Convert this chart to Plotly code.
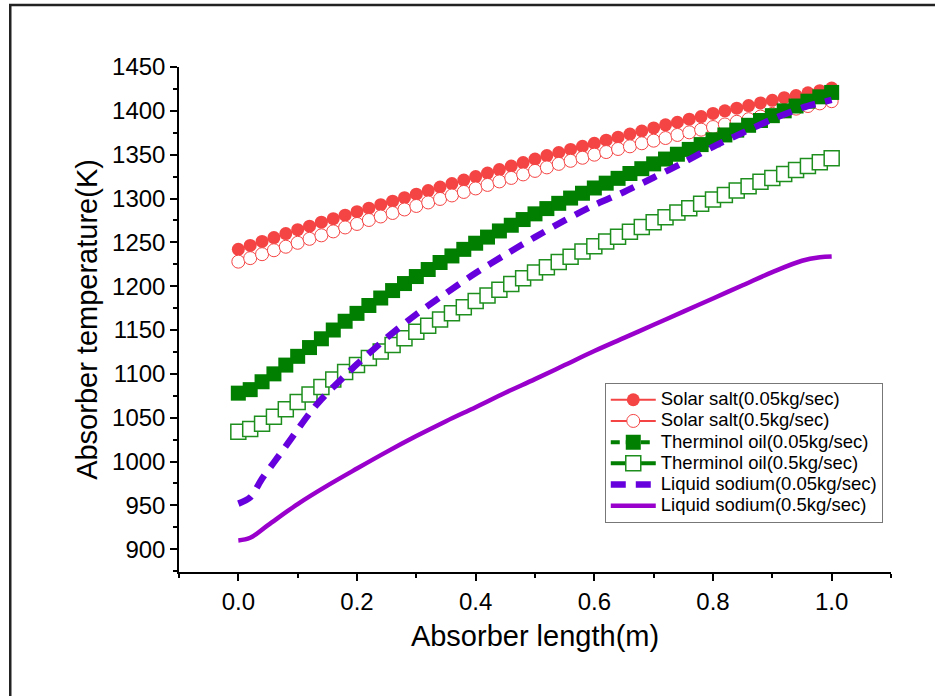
import plotly.graph_objects as go

# ---------------- data ----------------
x_grid = [0.00, 0.02, 0.04, 0.06, 0.08, 0.10, 0.12, 0.14, 0.16, 0.18,
          0.20, 0.22, 0.24, 0.26, 0.28, 0.30, 0.32, 0.34, 0.36, 0.38,
          0.40, 0.42, 0.44, 0.46, 0.48, 0.50, 0.52, 0.54, 0.56, 0.58,
          0.60, 0.62, 0.64, 0.66, 0.68, 0.70, 0.72, 0.74, 0.76, 0.78,
          0.80, 0.82, 0.84, 0.86, 0.88, 0.90, 0.92, 0.94, 0.96, 0.98, 1.00]

solar_005 = [1242, 1246.5, 1251, 1255.5, 1260, 1264.5, 1268.5, 1273, 1277, 1281,
             1285, 1289, 1293, 1297, 1301, 1305, 1309, 1313, 1317, 1321,
             1325, 1329, 1333, 1337, 1341, 1345, 1349, 1352.5, 1356, 1359.5,
             1363, 1366.5, 1370, 1373.5, 1377, 1380.5, 1384, 1387, 1390.5, 1393.5,
             1397, 1400, 1403, 1406, 1409, 1412, 1415, 1417.5, 1420.5, 1423, 1426]

solar_05 = [1228, 1232, 1236.5, 1241, 1245, 1249.5, 1254, 1258, 1262.5, 1267,
            1271, 1275.5, 1279.5, 1283.5, 1287.5, 1291.5, 1295.5, 1299.5, 1303.5, 1307.5,
            1311.5, 1315.5, 1319.5, 1323.5, 1327.5, 1331.5, 1335.5, 1339.5, 1343, 1346.5,
            1350, 1353, 1356.5, 1359.5, 1363, 1366, 1369, 1372.5, 1375.5, 1378.5,
            1381.5, 1384.5, 1387.5, 1390.5, 1393.5, 1396.5, 1399.5, 1402.5, 1405.5, 1408.5, 1411]

therm_005 = [1078, 1082, 1091, 1100, 1110, 1120, 1130, 1140, 1150, 1160,
             1169, 1178, 1186.5, 1195, 1203, 1211, 1219, 1227, 1234.5, 1242,
             1249, 1256, 1263, 1269.5, 1276, 1282.5, 1288.5, 1294.5, 1300.5, 1306,
             1312, 1317.5, 1323, 1328.5, 1334, 1339.5, 1345, 1350.5, 1356, 1361.5,
             1367, 1372.5, 1378, 1383.5, 1389, 1394.5, 1400, 1405.5, 1411, 1416, 1421]

therm_05 = [1034, 1037, 1043, 1051, 1059.5, 1068, 1076.5, 1085, 1093.5, 1102,
            1110, 1118, 1125.5, 1133, 1140.5, 1148, 1155, 1162, 1169, 1176,
            1183, 1189.5, 1196, 1202.5, 1209, 1215.5, 1221.5, 1227.5, 1233.5, 1239.5,
            1245.5, 1251, 1256.5, 1262, 1267.5, 1273, 1278.5, 1284, 1289, 1294,
            1299, 1304, 1309, 1314, 1319, 1323.5, 1328, 1332.5, 1337, 1341.5, 1346]

x_na_005 = [0.00, 0.02, 0.04, 0.06, 0.08, 0.10, 0.12, 0.14, 0.16, 0.18, 0.20,
            0.25, 0.30, 0.35, 0.40, 0.45, 0.50, 0.55, 0.60, 0.65, 0.70,
            0.75, 0.80, 0.85, 0.90, 0.95, 1.00]
na_005 = [952, 959, 980.5, 999, 1017.5, 1036.5, 1055, 1071, 1085, 1098, 1111,
          1141, 1168, 1192, 1215, 1236, 1256, 1275, 1292.5, 1307.5, 1324,
          1341, 1359, 1375, 1390.5, 1403.5, 1412.5]

x_na_05 = [0.00, 0.02, 0.05, 0.10, 0.15, 0.20, 0.25, 0.30, 0.35, 0.40, 0.45,
           0.50, 0.55, 0.60, 0.65, 0.70, 0.75, 0.80, 0.85, 0.90, 0.95, 0.98, 1.00]
na_05 = [910, 913, 927.5, 951.5, 972.5, 992, 1011, 1029, 1046, 1062, 1078.5,
         1094, 1110, 1126, 1141, 1156, 1171, 1186, 1201, 1216, 1229, 1233, 1234]

x_ticks = [0.0, 0.2, 0.4, 0.6, 0.8, 1.0]
x_tick_text = ["0.0", "0.2", "0.4", "0.6", "0.8", "1.0"]
y_ticks = [900, 950, 1000, 1050, 1100, 1150, 1200, 1250, 1300, 1350, 1400, 1450]

names = ["Solar salt(0.05kg/sec)", "Solar salt(0.5kg/sec)",
         "Therminol oil(0.05kg/sec)", "Therminol oil(0.5kg/sec)",
         "Liquid sodium(0.05kg/sec)", "Liquid sodium(0.5kg/sec)"]

RED = "#F54444"
GREEN = "#007F00"
OPEN_GREEN = "#1E8F1E"
NA1 = "#6600DD"
NA2 = "#9900CC"
FONT = "Liberation Sans, Arial, sans-serif"


def leg(name):
    return '<span style="font-size:18.5px">' + name + '</span>'


fig = go.Figure()
fig.add_trace(go.Scatter(x=x_grid, y=solar_005, name=leg(names[0]), mode="lines+markers",
                         line=dict(color=RED, width=2),
                         marker=dict(symbol="circle", size=13, color=RED,
                                     line=dict(color=RED, width=0))))
fig.add_trace(go.Scatter(x=x_grid, y=solar_05, name=leg(names[1]), mode="lines+markers",
                         line=dict(color=RED, width=2),
                         marker=dict(symbol="circle", size=13, color="white",
                                     line=dict(color=RED, width=1))))
fig.add_trace(go.Scatter(x=x_grid, y=therm_005, name=leg(names[2]), mode="lines+markers",
                         line=dict(color=GREEN, width=4, dash="9px,6px"),
                         marker=dict(symbol="square", size=15, color=GREEN,
                                     line=dict(color=GREEN, width=0))))
fig.add_trace(go.Scatter(x=x_grid, y=therm_05, name=leg(names[3]), mode="lines+markers",
                         line=dict(color=GREEN, width=4),
                         marker=dict(symbol="square", size=15, color="white",
                                     line=dict(color=OPEN_GREEN, width=1.5))))
fig.add_trace(go.Scatter(x=x_na_005, y=na_005, name=leg(names[4]), mode="lines",
                         line=dict(color=NA1, width=6.5, dash="15px,10px",
                                   shape="spline", smoothing=0.8)))
fig.add_trace(go.Scatter(x=x_na_05, y=na_05, name=leg(names[5]), mode="lines",
                         line=dict(color=NA2, width=4.5, shape="spline", smoothing=1.0)))

# outer frame of the picture
fig.add_shape(type="rect", xref="paper", yref="paper",
              x0=-0.237, x1=1.08, y0=-0.27, y1=1.1228,
              line=dict(color="#222222", width=2.5), layer="below")

fig.update_layout(
    width=935, height=696,
    margin=dict(l=179, r=44, t=67, b=124),
    paper_bgcolor="white", plot_bgcolor="white",
    font=dict(family=FONT, color="black", size=22),
    showlegend=True,
    legend=dict(x=0.598, y=0.374, xanchor="left", yanchor="top",
                bgcolor="white", bordercolor="#777777", borderwidth=1,
                font=dict(family=FONT, size=14, color="black"),
                itemwidth=45, tracegroupgap=0),
    xaxis=dict(range=[-0.1, 1.1], tickmode="array", tickvals=x_ticks, ticktext=x_tick_text,
               showgrid=False, zeroline=False, showline=True, linecolor="black", linewidth=1.5,
               ticks="outside", ticklen=7, tickwidth=1.5, tickcolor="black",
               tickfont=dict(family=FONT, size=24),
               minor=dict(tickmode="array", tickvals=[-0.1, 0.1, 0.3, 0.5, 0.7, 0.9, 1.1],
                          ticks="outside", ticklen=4, tickwidth=1.5, tickcolor="black"),
               title=dict(text="Absorber length(m)", font=dict(family=FONT, size=29), standoff=12)),
    yaxis=dict(range=[874, 1450], tickmode="array", tickvals=y_ticks,
               showgrid=False, zeroline=False, showline=True, linecolor="black", linewidth=1.5,
               ticks="outside", ticklen=7, tickwidth=1.5, tickcolor="black",
               tickfont=dict(family=FONT, size=24),
               minor=dict(dtick=25, ticks="outside", ticklen=4, tickwidth=1.5, tickcolor="black"),
               title=dict(text="Absorber temperature(K)", font=dict(family=FONT, size=29), standoff=6)),
)

fig.write_html("out.html")
